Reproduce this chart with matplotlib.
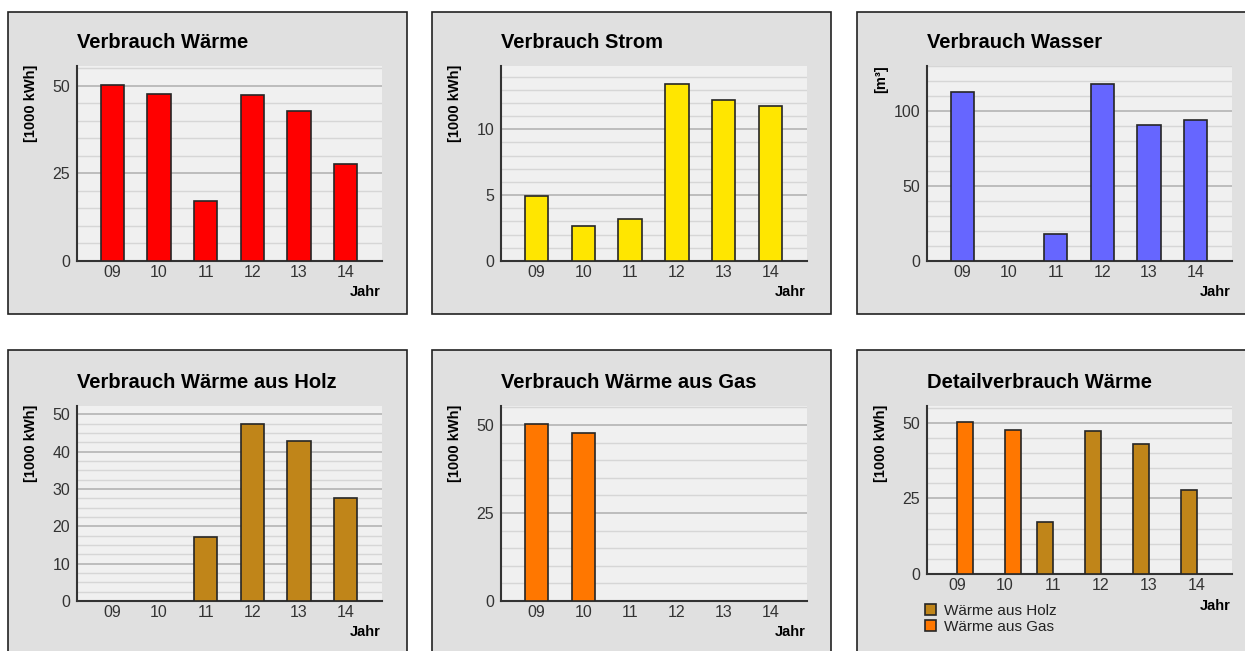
import numpy as np
import matplotlib.pyplot as plt
from matplotlib.patches import Rectangle, Patch
from matplotlib.ticker import MultipleLocator

# Werte
jahre = ["09", "10", "11", "12", "13", "14"]
waerme = [50.3, 47.7, 17.1, 47.3, 42.8, 27.7]
strom = [4.9, 2.67, 3.2, 13.46, 12.19, 11.8]
wasser = [112.9, 0, 18.2, 117.8, 90.9, 94.2]
waerme_holz = [0, 0, 17.1, 47.3, 42.8, 27.7]
waerme_gas = [50.3, 47.7, 0, 0, 0, 0]

W, H = 1245, 651
plt.rcParams['font.family'] = ['Liberation Sans', 'DejaVu Sans']
fig = plt.figure(figsize=(W / 100, H / 100), dpi=100)
fig.patch.set_facecolor('white')


def fx(px):
    return px / W


def fy(py):
    return 1 - py / H


def panel_box(x0, y0, x1, y1):
    fig.patches.append(Rectangle((fx(x0), fy(y1)), (x1 - x0) / W, (y1 - y0) / H,
                                 transform=fig.transFigure, facecolor='#e0e0e0',
                                 edgecolor='#222222', lw=1.2, zorder=-5))


def make_axes(x0, y0, x1, y1, title, ylabel, ymax, major, minor, title_y):
    ax = fig.add_axes([fx(x0), fy(y1), (x1 - x0) / W, (y1 - y0) / H])
    ax.set_facecolor('#f0f0f0')
    ax.set_ylim(0, ymax)
    ax.yaxis.set_major_locator(MultipleLocator(major))
    ax.yaxis.set_minor_locator(MultipleLocator(minor))
    ax.grid(which='major', axis='y', color='#b8b8b8', lw=1.3, zorder=0)
    ax.grid(which='minor', axis='y', color='#d6d6d6', lw=1.0, zorder=0)
    ax.set_axisbelow(True)
    for s in ['top', 'right']:
        ax.spines[s].set_visible(False)
    for s in ['left', 'bottom']:
        ax.spines[s].set_color('#333333')
        ax.spines[s].set_linewidth(1.5)
    ax.tick_params(which='both', length=0, labelsize=11.5, colors='#333333')
    ax.tick_params(axis='x', pad=3)
    ax.tick_params(axis='y', pad=5)
    ax.set_xticks(range(len(jahre)))
    ax.set_xticklabels(jahre)
    fig.text(fx(x0), fy(title_y), title, fontsize=14.5, fontweight='bold',
             ha='left', va='center', color='#000000')
    fig.text(fx(x0 - 46), fy(y0 - 1), ylabel, fontsize=10.5, fontweight='bold',
             rotation=90, ha='center', va='top', color='#000000')
    return ax


def bars(ax, values, color):
    x = np.arange(len(jahre))
    v = np.array(values, dtype=float)
    m = v > 0
    ax.bar(x[m], v[m], width=0.5, color=color, edgecolor='#262626', lw=1.2, zorder=3)
    ax.set_xlim(-0.76, 5.78)


cols = [(77, 382), (501, 807), (927, 1232)]
boxes_x = [(8, 407), (432, 831), (857, 1260)]

for bx in boxes_x:
    panel_box(bx[0], 12, bx[1], 314)
    panel_box(bx[0], 350, bx[1], 700)

# obere Reihe
ax1 = make_axes(cols[0][0], 66, cols[0][1], 261, 'Verbrauch Wärme', '[1000 kWh]', 55.6, 25, 5, 42)
bars(ax1, waerme, '#ff0000')

ax2 = make_axes(cols[1][0], 66, cols[1][1], 261, 'Verbrauch Strom', '[1000 kWh]', 14.8, 5, 1, 42)
bars(ax2, strom, '#ffe600')

ax3 = make_axes(cols[2][0], 66, cols[2][1], 261, 'Verbrauch Wasser', '[m³]', 130, 50, 10, 42)
bars(ax3, wasser, '#6666ff')

# untere Reihe
ax4 = make_axes(cols[0][0], 406, cols[0][1], 601, 'Verbrauch Wärme aus Holz', '[1000 kWh]', 52.2, 10, 2.5, 382)
bars(ax4, waerme_holz, '#c08519')

ax5 = make_axes(cols[1][0], 406, cols[1][1], 601, 'Verbrauch Wärme aus Gas', '[1000 kWh]', 55.4, 25, 5, 382)
bars(ax5, waerme_gas, '#ff7700')

ax6 = make_axes(cols[2][0], 406, cols[2][1], 574, 'Detailverbrauch Wärme', '[1000 kWh]', 55.5, 25, 5, 382)
x = np.arange(len(jahre))
h = np.array(waerme_holz, dtype=float)
g = np.array(waerme_gas, dtype=float)
ax6.bar(x[h > 0], h[h > 0], width=-0.33, align='edge', color='#c08519',
        edgecolor='#262626', lw=1.2, zorder=3)
ax6.bar(x[g > 0], g[g > 0], width=0.33, align='edge', color='#ff7700',
        edgecolor='#262626', lw=1.2, zorder=3)
ax6.set_xlim(-0.625, 5.73)

handles = [Patch(facecolor='#c08519', edgecolor='#262626', lw=1.2, label='Wärme aus Holz'),
           Patch(facecolor='#ff7700', edgecolor='#262626', lw=1.2, label='Wärme aus Gas')]
fig.legend(handles=handles, loc='upper left', bbox_to_anchor=(fx(925), fy(604)),
           frameon=False, fontsize=11, handlelength=0.72, handleheight=0.72,
           handletextpad=0.55, labelspacing=0.1, borderpad=0, borderaxespad=0,
           labelcolor='#222222')

# Achsenbeschriftung "Jahr"
for (x0, x1), yj in [(cols[0], 292), (cols[1], 292), (cols[2], 292),
                     (cols[0], 632), (cols[1], 632), (cols[2], 606)]:
    fig.text(fx(x1 - 1), fy(yj), 'Jahr', fontsize=10.5, fontweight='bold',
             ha='right', va='center', color='#000000')

fig.savefig('out.png', dpi=100)
